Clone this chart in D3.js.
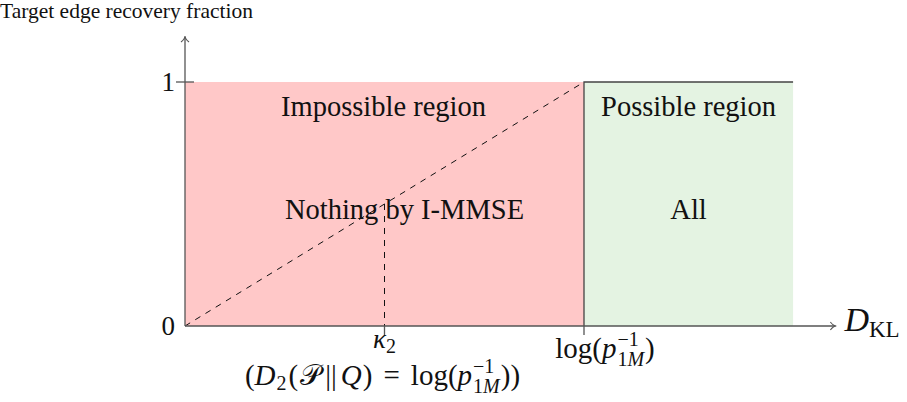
<!DOCTYPE html>
<html><head><meta charset="utf-8">
<script src="https://cdn.jsdelivr.net/npm/d3@7"></script>
<style>
body{margin:0;background:#fff;}
text{font-family:"Liberation Serif","DejaVu Serif",serif;fill:#111;}
</style></head>
<body><svg id="c" width="907" height="402"></svg>
<script>
// ---- data ----
const yTicks = [0, 1];
const xThreshold = 1;        // log(p_1M^-1)
const kappa2 = 0.5;          // κ2
const possibleEnd = 1.524;   // right end of possible region
const axisEnd = 1.63;
const regionNames = ["Impossible region", "Possible region"];
const regionSubs = ["Nothing by I-MMSE", "All"];
const regionX0 = [0, xThreshold];
const regionX1 = [xThreshold, possibleEnd];
const regionColors = ["#ffc8c8", "#e4f3e2"];
const yTitle = "Target edge recovery fraction";

// ---- scales ----
const svg = d3.select("#c");
const x = d3.scaleLinear().domain([0, 1]).range([185, 584]);
const y = d3.scaleLinear().domain([0, 1]).range([326, 82]);
const regions = regionNames.map((n, i) => ({name: n, sub: regionSubs[i], x0: regionX0[i], x1: regionX1[i], i}));

// regions
svg.selectAll("rect.reg").data(regions).join("rect")
  .attr("x", d => x(d.x0)).attr("y", y(1))
  .attr("width", d => x(d.x1) - x(d.x0)).attr("height", y(0) - y(1))
  .attr("fill", d => regionColors[d.i]);

// boundary of possible region
svg.append("path")
  .attr("d", `M${x(xThreshold)},${y(0)}V${y(1)}H${x(possibleEnd)}`)
  .attr("fill","none").attr("stroke","#444").attr("stroke-width",1.3);

// region texts
svg.selectAll("text.rn").data(regions).join("text")
  .attr("x", d => x((d.x0 + d.x1) / 2) + (d.i === 0 ? -1 : 0)).attr("y", y(1) + 34)
  .attr("text-anchor","middle").attr("font-size", 28.5).text(d => d.name);
svg.selectAll("text.rs").data(regions).join("text")
  .attr("x", d => x((d.x0 + d.x1) / 2) + (d.i === 0 ? 20 : 0)).attr("y", y(0) - 107)
  .attr("text-anchor","middle").attr("font-size", 28.5).text(d => d.sub);

// dashed diagonal and dashed vertical
svg.append("line")
  .attr("x1", x(0)).attr("y1", y(0)).attr("x2", x(xThreshold)).attr("y2", y(1))
  .attr("stroke","#111").attr("stroke-width",1).attr("stroke-dasharray","6,6");
svg.append("line")
  .attr("x1", x(kappa2)).attr("y1", y(kappa2 / xThreshold)).attr("x2", x(kappa2)).attr("y2", y(0))
  .attr("stroke","#111").attr("stroke-width",1).attr("stroke-dasharray","6,6");

// axes
const axCol = "#555";
const xe = x(axisEnd), y0 = y(0);
svg.append("line").attr("x1", x(0)).attr("y1", y0).attr("x2", xe).attr("y2", y0)
  .attr("stroke", axCol).attr("stroke-width", 1.3);
svg.append("path").attr("d", `M${xe-5},${y0-4}Q${xe-2},${y0} ${xe+1},${y0}Q${xe-2},${y0} ${xe-5},${y0+4}`)
  .attr("fill","none").attr("stroke", axCol).attr("stroke-width",1.1);
const yTop = 37, x0p = x(0);
svg.append("line").attr("x1", x0p).attr("y1", y0).attr("x2", x0p).attr("y2", yTop)
  .attr("stroke", axCol).attr("stroke-width", 1.3);
svg.append("path").attr("d", `M${x0p-4},${yTop+5}Q${x0p},${yTop+2} ${x0p},${yTop-1}Q${x0p},${yTop+2} ${x0p+4},${yTop+5}`)
  .attr("fill","none").attr("stroke", axCol).attr("stroke-width",1.1);

// y ticks
svg.selectAll("line.yt").data(yTicks.filter(d => d > 0)).join("line")
  .attr("x1", x0p - 9).attr("x2", x0p + 9).attr("y1", d => y(d)).attr("y2", d => y(d))
  .attr("stroke", axCol).attr("stroke-width", 1.3);
svg.selectAll("text.yt").data(yTicks).join("text")
  .attr("x", x0p - 10).attr("y", d => y(d) + 9)
  .attr("text-anchor","end").attr("font-size", 27).text(d => d);

// x ticks
svg.selectAll("line.xt").data([kappa2, xThreshold]).join("line")
  .attr("x1", d => x(d)).attr("x2", d => x(d)).attr("y1", y0).attr("y2", y0 + 9)
  .attr("stroke", axCol).attr("stroke-width", 1.3);

// ---- math label helper ----
function mathLabel(parts, cx, base) {
  const g = svg.append("g");
  let cur = 0;
  const put = (p, xx) => {
    const t = g.append("text").attr("x", xx).attr("y", base + (p.dy || 0))
      .attr("font-size", p.fs).text(p.t);
    if (p.it) t.attr("font-style", "italic");
    return t.node().getComputedTextLength();
  };
  parts.forEach(p => {
    cur += (p.pre || 0);
    if (p.stack) {
      let w = 0;
      p.stack.forEach(row => {
        let c = cur;
        row.forEach(q => { c += put(q, c); });
        w = Math.max(w, c - cur);
      });
      cur += w;
    } else {
      cur += put(p, cur);
    }
    cur += (p.post || 0);
  });
  g.attr("transform", `translate(${cx - cur / 2},0)`);
  return g;
}
const B = 29, S = 20;
const pInv1M = [
  {t:"log(", fs:B},
  {t:"p", it:true, fs:B, post:1},
  {stack:[[{t:"−1", fs:S, dy:-12}], [{t:"1", fs:S, dy:8}, {t:"M", fs:S, dy:8, it:true}]], post:1},
  {t:")", fs:B}
];

// κ2 label
mathLabel([{t:"κ", it:true, fs:27}, {t:"2", fs:S, dy:5}], x(kappa2), 348);

// log(p^{-1}_{1M}) label
mathLabel(pInv1M, x(xThreshold) + 21, 358);

// (D2(P||Q) = log(p^{-1}_{1M})) label
mathLabel([
  {t:"(", fs:B},
  {t:"D", fs:B, it:true, post:1},
  {t:"2", fs:S, dy:5, post:2},
  {t:"(", fs:B, post:2},
  {t:"𝒫", fs:B, post:4},
  {t:"||", fs:B, post:4},
  {t:"Q", fs:B, it:true, post:1},
  {t:")", fs:B, post:11},
  {t:"=", fs:B, post:11},
  ...pInv1M,
  {t:")", fs:B}
], x(kappa2) - 2, 385);

// x axis label D_KL
mathLabel([{t:"D", it:true, fs:34}, {t:"KL", fs:23, dy:6}], 872, y0 + 5);

// y axis title
svg.append("text").attr("x", 0).attr("y", 18).attr("font-size", 21.5).text(yTitle);
</script></body></html>
